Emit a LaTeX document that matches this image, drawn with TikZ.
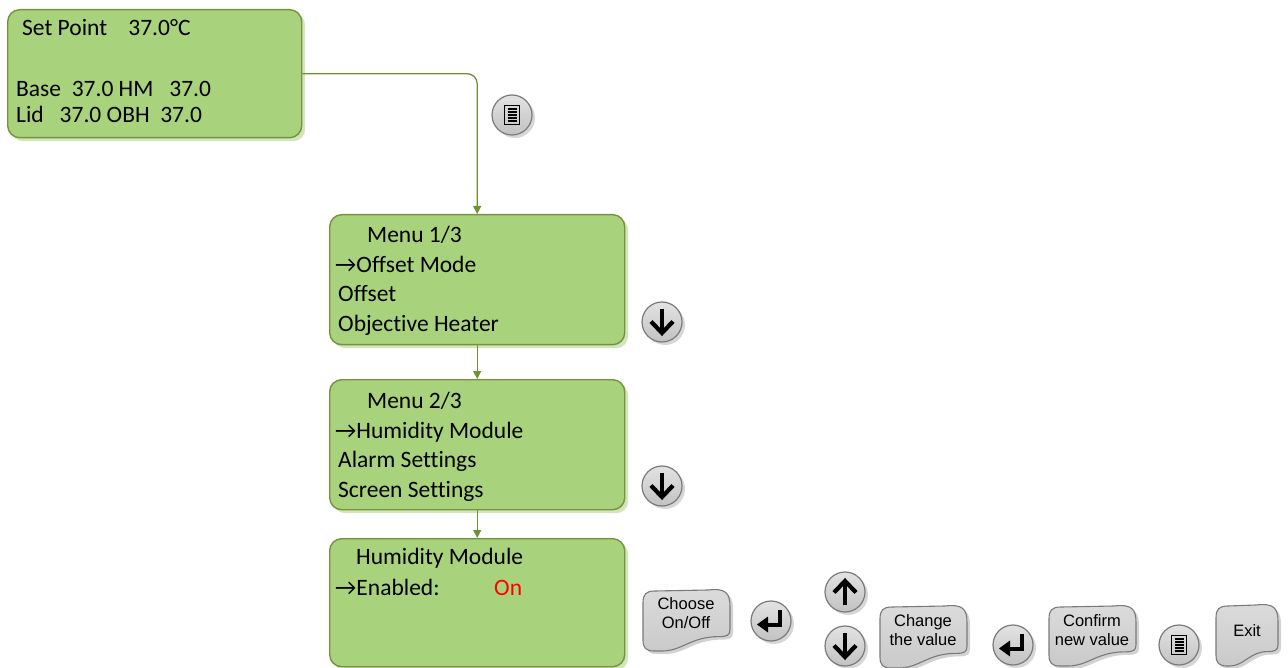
\documentclass[tikz,border=0pt]{standalone}
\usepackage{fontspec}
\setmainfont{Carlito}[Ligatures=CommonOff]
\newfontfamily\btnfont{Liberation Sans}
\usetikzlibrary{arrows.meta,shadows,calc}
\definecolor{boxgreen}{HTML}{A9D27C}
\definecolor{boxedge}{HTML}{76923C}
\definecolor{boxshadow}{HTML}{D2E5BC}
\definecolor{connc}{HTML}{6F922E}
\definecolor{btnedge}{HTML}{7A7A7A}
\newcommand\bubbleshape[4]{%
  \pgfmathsetmacro\bw{#3-#1}\pgfmathsetmacro\bh{#4-#2}%
  \begin{scope}[shift={(#1,#2)}]
    \fill[gray!35, xshift=3pt, yshift=-3pt] (0,12) .. controls (0,3) and (3,0) .. (12,0) -- ({\bw-22},-1) .. controls ({\bw-4},-3) and (\bw,2) .. (\bw,16) -- (\bw,{0.64*\bh}) .. controls (\bw,{0.74*\bh}) and ({\bw-3},{0.76*\bh}) .. ({\bw-11},{0.76*\bh}) .. controls ({0.55*\bw},{0.76*\bh}) and ({0.45*\bw},\bh) .. ({0.22*\bw},\bh) -- (11,\bh) .. controls (3,\bh) and (0,{\bh-3}) .. (0,{\bh-11}) -- cycle;
    \shade[top color=gray!28, bottom color=gray!42, draw=btnedge, line width=1.1pt] (0,12) .. controls (0,3) and (3,0) .. (12,0) -- ({\bw-22},-1) .. controls ({\bw-4},-3) and (\bw,2) .. (\bw,16) -- (\bw,{0.64*\bh}) .. controls (\bw,{0.74*\bh}) and ({\bw-3},{0.76*\bh}) .. ({\bw-11},{0.76*\bh}) .. controls ({0.55*\bw},{0.76*\bh}) and ({0.45*\bw},\bh) .. ({0.22*\bw},\bh) -- (11,\bh) .. controls (3,\bh) and (0,{\bh-3}) .. (0,{\bh-11}) -- cycle;
  \end{scope}}
\tikzset{
  greenbox/.style={draw=boxedge, line width=1.4pt, fill=boxgreen, rounded corners=12pt,
    drop shadow={shadow xshift=3.5pt, shadow yshift=-3.5pt, fill=boxshadow, opacity=1},
    anchor=north west, inner sep=0pt},
  boxtext/.style={anchor=base west, inner sep=0pt, font=\fontsize{23.5}{28}\selectfont},
  conn/.style={draw=connc, line width=1.3pt, -{Triangle[width=8pt,length=8pt]}},
  circbtn/.style={circle, minimum size=40pt, inner sep=0pt, top color=gray!22, bottom color=gray!48,
    draw=btnedge, line width=1.2pt,
    drop shadow={shadow xshift=3pt, shadow yshift=-3pt, fill=gray!45, opacity=0.7}},
  btntext/.style={align=center, inner sep=0pt, font=\btnfont\fontsize{16.5}{19}\selectfont},
  menuicon/.pic={\draw[line width=1.8pt] (-7.5,-9.5) rectangle (7.5,9.5);
    \foreach \yy in {-6,-3,0,3,6} \draw[line width=1.3pt] (-4.5,\yy) -- (4.5,\yy);},
  downicon/.pic={\draw[line width=4.2pt] (0,-13) -- (0,10);
    \draw[line width=4.2pt, line join=miter, miter limit=10] (-11,-0.5) -- (0,11) -- (11,-0.5);},
  upicon/.pic={\draw[line width=4.2pt] (0,13) -- (0,-10);
    \draw[line width=4.2pt, line join=miter, miter limit=10] (-11,0.5) -- (0,-11) -- (11,0.5);},
  entericon/.pic={\draw[line width=4pt, line join=miter] (9,-11) -- (9,3.5) -- (-4,3.5);
    \fill (-14,3.5) -- (-3,-4.5) -- (-3,11.5) -- cycle;}
}
\begin{document}
\begin{tikzpicture}[x=1pt,y=-1pt]
\useasboundingbox (0,0) rectangle (1288,668);
% green screens
\node[greenbox, minimum width=294pt, minimum height=128pt] (b1) at (7,9) {};
\node[greenbox, minimum width=295pt, minimum height=130pt] (m1) at (329,214) {};
\node[greenbox, minimum width=295pt, minimum height=130pt] (m2) at (329,379) {};
\node[greenbox, minimum width=295pt, minimum height=128pt] (m3) at (329,538) {};
% texts
\node[boxtext] (t11) at (22,36) {Set Point~~~~37.0°C};
\node[boxtext] (t12) at (16,97) {Base~~37.0 HM~~~37.0};
\node[boxtext] (t13) at (16,123) {Lid~~~37.0 OBH~~37.0};
\node[boxtext] (t21) at (367,243) {Menu 1/3};
\node[boxtext] (t22) at (335,273) {→Offset Mode};
\node[boxtext] (t23) at (338,302) {Offset};
\node[boxtext] (t24) at (338,332) {Objective Heater};
\node[boxtext] (t31) at (367,408) {Menu 2/3};
\node[boxtext] (t32) at (335,438) {→Humidity Module};
\node[boxtext] (t33) at (338,467) {Alarm Settings};
\node[boxtext] (t34) at (338,497) {Screen Settings};
\node[boxtext] (t41) at (356,564) {Humidity Module};
\node[boxtext] (t42) at (335,595) {→Enabled:};
\node[boxtext, text=red] (t43) at (494,595) {On};
% connectors
\draw[conn, rounded corners=10pt] (b1.east) -| (m1.north);
\draw[conn] (m1.south) -- (m2.north);
\draw[conn] (m2.south) -- (m3.north);
% round buttons
\node[circbtn] (c1) at (512,115) {}; \pic at (c1) {menuicon};
\node[circbtn] (c2) at (662,322) {}; \pic at (c2) {downicon};
\node[circbtn] (c3) at (662,486) {}; \pic at (c3) {downicon};
\node[circbtn] (c4) at (771,621) {}; \pic at (c4) {entericon};
\node[circbtn] (c5) at (845,592) {}; \pic at (c5) {upicon};
\node[circbtn] (c6) at (845,646) {}; \pic at (c6) {downicon};
\node[circbtn] (c7) at (1013,645) {}; \pic at (c7) {entericon};
\node[circbtn] (c8) at (1179,645) {}; \pic at (c8) {menuicon};
% bubbles
\bubbleshape{643}{591}{730}{651}
\node[btntext] (l1) at (686,613) {Choose\\On/Off};
\bubbleshape{880}{607}{967}{668}
\node[btntext] (l2) at (923,630) {Change\\the value};
\bubbleshape{1049}{607}{1136}{666}
\node[btntext] (l3) at (1092,630) {Confirm\\new value};
\bubbleshape{1216}{606}{1278}{666}
\node[btntext] (l4) at (1247,631) {Exit};
\end{tikzpicture}
\end{document}
